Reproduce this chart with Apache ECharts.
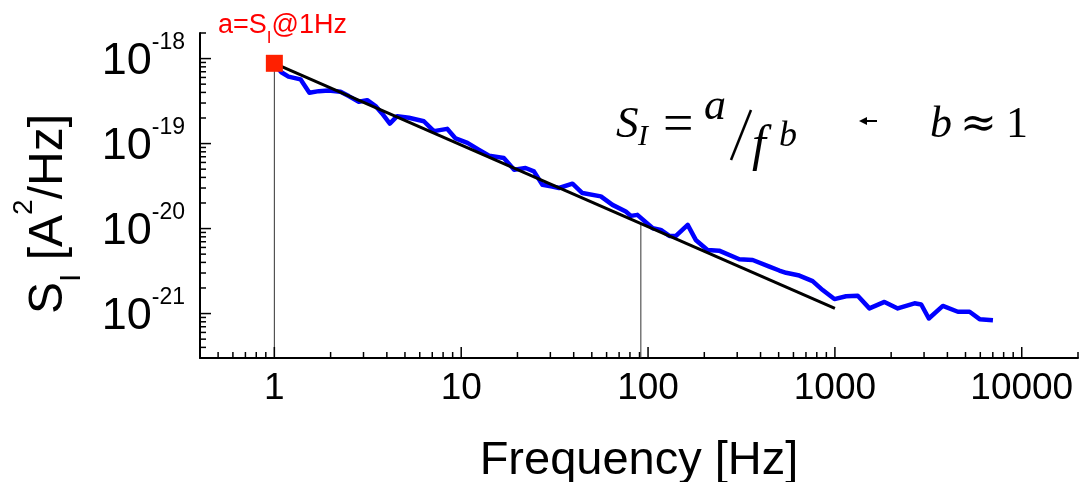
<!DOCTYPE html>
<html>
<head>
<meta charset="utf-8">
<script src="https://cdn.jsdelivr.net/npm/echarts@6/dist/echarts.min.js"></script>
<style>
html,body{margin:0;padding:0;background:#fff;}
#chart{width:1084px;height:482px;}
</style>
</head>
<body>
<div id="chart"></div>
<script>
// ---------- data ----------
const freqHz = [1, 1.09, 1.19, 1.38, 1.54, 1.73, 1.95, 2.26, 2.5, 2.83,
  3.14, 3.48, 3.77, 4.15, 4.54, 5.25, 6.31, 7.14, 8.41, 9.33,
  10.8, 12.4, 14.1, 16.9, 19.2, 22.1, 24.5, 27.2, 30.7, 33.4,
  39.4, 44.5, 55.9, 64.5, 76, 80.9, 87.7, 106, 117, 130,
  141, 163, 180, 208, 240, 308, 363, 446, 504, 548,
  645, 760, 860, 994, 1148, 1325, 1530, 1842, 2170, 2667,
  2897, 3182, 3783, 4551, 5258, 5949, 7012];
const psdA2Hz = [8.6e-19, 6.9e-19, 6.13e-19, 5.7e-19, 3.97e-19, 4.14e-19, 4.22e-19, 4.07e-19, 3.62e-19, 3.11e-19,
  3.24e-19, 2.76e-19, 2.26e-19, 1.72e-19, 2.10e-19, 2.01e-19, 1.83e-19, 1.40e-19, 1.49e-19, 1.15e-19,
  1.02e-19, 8.5e-20, 7.22e-20, 6.78e-20, 4.93e-20, 5.16e-20, 4.71e-20, 3.28e-20, 3.13e-20, 3.0e-20,
  3.37e-20, 2.62e-20, 2.39e-20, 1.90e-20, 1.59e-20, 1.41e-20, 1.45e-20, 1.01e-20, 9.65e-21, 8.2e-21,
  8.2e-21, 1.106e-20, 7.35e-21, 5.6e-21, 5.5e-21, 4.35e-21, 4.27e-21, 3.56e-21, 3.21e-21, 3.02e-21,
  2.8e-21, 2.41e-21, 1.89e-21, 1.48e-21, 1.6e-21, 1.62e-21, 1.15e-21, 1.37e-21, 1.15e-21, 1.32e-21,
  1.28e-21, 8.75e-22, 1.23e-21, 1.05e-21, 1.05e-21, 8.59e-22, 8.36e-22];
const fitFreq = [1, 1000];
const fitPsd = [8.8e-19, 1.15e-21];
const markerPoint = [1, 8.8e-19];          // a = S_I @ 1 Hz
const guideFreqs = [1, 91.5];
const guideTops = [8.8e-19, 1.153e-20];
const xMin = 0.4, xMax = 20000, yMin = 3e-22, yMax = 2e-18;
const xMajorTicks = [1, 10, 100, 1000, 10000];
const xMinorTicks = [0.5, 0.6, 0.7, 0.8, 0.9,
  2, 3, 4, 5, 6, 7, 8, 9,
  20, 30, 40, 50, 60, 70, 80, 90,
  200, 300, 400, 500, 600, 700, 800, 900,
  2000, 3000, 4000, 5000, 6000, 7000, 8000, 9000, 20000];
const yMajorTicks = [1e-21, 1e-20, 1e-19, 1e-18];
const yMinorTicks = [3e-22, 4e-22, 5e-22, 6e-22, 7e-22, 8e-22, 9e-22,
  2e-21, 3e-21, 4e-21, 5e-21, 6e-21, 7e-21, 8e-21, 9e-21,
  2e-20, 3e-20, 4e-20, 5e-20, 6e-20, 7e-20, 8e-20, 9e-20,
  2e-19, 3e-19, 4e-19, 5e-19, 6e-19, 7e-19, 8e-19, 9e-19, 2e-18];
const xTitle = 'Frequency [Hz]';

// ---------- rendering ----------
const SANS = '"Liberation Sans", Arial, sans-serif';
const SERIF = '"Liberation Serif", "DejaVu Serif", serif';

function isPow10(v) {
  const l = Math.log10(v);
  return Math.abs(l - Math.round(l)) < 1e-6;
}
function xTick(len) {
  return function (params, api) {
    const p = api.coord([api.value(0), api.value(1)]);
    return {type: 'line', shape: {x1: p[0], y1: p[1], x2: p[0], y2: p[1] - len},
      style: {stroke: '#000', lineWidth: 1.5}};
  };
}
function yTick(len) {
  return function (params, api) {
    const p = api.coord([api.value(0), api.value(1)]);
    return {type: 'line', shape: {x1: p[0], y1: p[1], x2: p[0] + len, y2: p[1]},
      style: {stroke: '#000', lineWidth: 1.5}};
  };
}
// glyph placed by left x and baseline y
function glyph(text, x, base, size, italic, family) {
  return {type: 'text', x: x, y: base - 0.3375 * size, z: 100,
    style: {text: text, fontSize: size, fontFamily: family || SERIF,
      fontStyle: italic ? 'italic' : 'normal', fill: '#000',
      align: 'left', verticalAlign: 'middle'}};
}

const chart = echarts.init(document.getElementById('chart'), null, {renderer: 'canvas', width: 1084, height: 482});
chart.setOption({
  animation: false,
  backgroundColor: '#fff',
  grid: {left: 200, right: 6, top: 33, bottom: 124, containLabel: false, outerBoundsMode: 'none'},
  xAxis: {
    type: 'log', logBase: 10, min: xMin, max: xMax,
    name: xTitle, nameLocation: 'middle', nameGap: 80,
    nameTextStyle: {fontSize: 47, fontFamily: SANS, color: '#000'},
    axisLine: {lineStyle: {color: '#000', width: 2}},
    axisTick: {show: false},
    splitLine: {show: false},
    axisLabel: {
      margin: 12, fontSize: 37, fontFamily: SANS, color: '#000',
      formatter: function (v) { return isPow10(v) ? String(Math.round(v)) : ''; }
    }
  },
  yAxis: {
    type: 'log', logBase: 10, min: yMin, max: yMax,
    axisLine: {show: true, lineStyle: {color: '#000', width: 2}},
    axisTick: {show: false},
    splitLine: {show: false},
    axisLabel: {
      margin: 15, color: '#000', padding: [7, 0, 0, 0],
      formatter: function (v) {
        if (!isPow10(v)) return '';
        return '{b|10}{s|' + Math.round(Math.log10(v)) + '}';
      },
      rich: {
        b: {fontSize: 45, lineHeight: 61, fontFamily: SANS, color: '#000'},
        s: {fontSize: 23, lineHeight: 23, fontFamily: SANS, color: '#000', verticalAlign: 'top'}
      }
    }
  },
  series: [
    {type: 'custom', renderItem: xTick(11), data: xMajorTicks.map(v => [v, yMin]), silent: true, z: 5},
    {type: 'custom', renderItem: xTick(6), data: xMinorTicks.map(v => [v, yMin]), silent: true, z: 5},
    {type: 'custom', renderItem: yTick(11), data: yMajorTicks.map(v => [xMin, v]), silent: true, z: 5},
    {type: 'custom', renderItem: yTick(6), data: yMinorTicks.map(v => [xMin, v]), silent: true, z: 5},
    {type: 'line', data: [[guideFreqs[0], guideTops[0]], [guideFreqs[0], yMin]], symbol: 'none',
      lineStyle: {color: '#333', width: 1}, z: 2},
    {type: 'line', data: [[guideFreqs[1], guideTops[1]], [guideFreqs[1], yMin]], symbol: 'none',
      lineStyle: {color: '#333', width: 1}, z: 2},
    {type: 'line', data: freqHz.map((f, i) => [f, psdA2Hz[i]]), symbol: 'none',
      lineStyle: {color: '#0000ff', width: 4.5, join: 'round'}, z: 3},
    {type: 'line', data: fitFreq.map((f, i) => [f, fitPsd[i]]), symbol: 'none',
      lineStyle: {color: '#000', width: 3}, z: 4},
    {type: 'scatter', data: [markerPoint], symbol: 'rect', symbolSize: 17,
      itemStyle: {color: '#ff2000', opacity: 1}, z: 6}
  ],
  graphic: [
    {type: 'text', x: 48.4, y: 214, rotation: Math.PI / 2, z: 100,
      style: {text: '{m|S}{sub|I}{m| [A}{sup|2}{m|/Hz]}', align: 'center', verticalAlign: 'middle',
        fill: '#000', fontSize: 48, fontFamily: SANS,
        rich: {
          m: {fontSize: 48, lineHeight: 76, fontFamily: SANS, fill: '#000'},
          sub: {fontSize: 30, lineHeight: 30, fontFamily: SANS, fill: '#000', verticalAlign: 'bottom'},
          sup: {fontSize: 28, lineHeight: 30, fontFamily: SANS, fill: '#000', verticalAlign: 'top'}
        }}},
    {type: 'text', x: 218, y: 26, z: 100,
      style: {text: '{m|a=S}{sub|I}{m|@1Hz}', align: 'left', verticalAlign: 'middle',
        fill: '#ff0000', fontSize: 27, fontFamily: SANS,
        rich: {
          m: {fontSize: 27, lineHeight: 42, fontFamily: SANS, fill: '#ff0000'},
          sub: {fontSize: 17, lineHeight: 17, fontFamily: SANS, fill: '#ff0000', verticalAlign: 'bottom'}
        }}},
    glyph('S', 616, 140, 45, true),
    glyph('I', 638, 147, 30, true),
    glyph('=', 663, 145, 54, false),
    glyph('a', 704, 122, 44, true),
    {type: 'line', z: 100, shape: {x1: 731, y1: 160, x2: 751, y2: 110}, style: {stroke: '#000', lineWidth: 2.5}},
    glyph('f', 752, 164, 50, true),
    glyph('b', 779, 149, 36, true),
    {type: 'line', z: 100, shape: {x1: 864, y1: 121, x2: 877, y2: 121}, style: {stroke: '#000', lineWidth: 2}},
    {type: 'polygon', z: 100, shape: {points: [[859, 121], [867, 117], [867, 125]]}, style: {fill: '#000'}},
    glyph('b', 930, 140, 44, true),
    glyph('\u2248', 960, 140, 44, false, '"DejaVu Serif", serif'),
    glyph('1', 1006, 140, 44, false)
  ]
});
</script>
</body>
</html>
